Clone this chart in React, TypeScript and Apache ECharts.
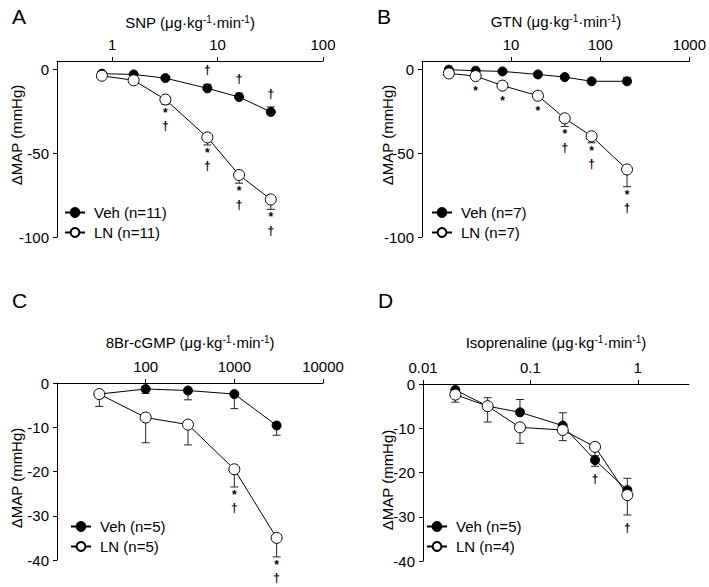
import React, { useEffect, useRef } from "react";
import * as echarts from "echarts";

const FONT = "'Liberation Sans', Arial, Helvetica, sans-serif";

// ---------- Panel A: SNP ----------
const snpDose = [0.8, 1.6, 3.2, 8, 16, 32];
const snpVeh = [-2.6, -3.0, -5.2, -11.3, -16.5, -25.4];
const snpVehErr = [0.6, 0.6, 0.8, 2.4, 2.3, 3.0];
const snpVehSig = ["", "", "", "†", "†", "†"];
const snpLn = [-3.8, -6.5, -18.0, -40.6, -63.0, -77.6];
const snpLnErr = [-0.8, -1.0, -3.0, -4.5, -4.9, -5.9];
const snpLnSig = ["", "", "*†", "*†", "*†", "*†"];
const snpTicks = [1, 10, 100];

// ---------- Panel B: GTN ----------
const gtnDose = [2, 4, 8, 20, 40, 80, 200];
const gtnVeh = [-0.2, -0.8, -1.2, -3.0, -4.6, -7.1, -7.1];
const gtnVehErr = [0.5, 0.5, 0.5, 0.6, 0.8, 0.8, 2.3];
const gtnVehSig = ["", "", "", "", "", "", ""];
const gtnLn = [-2.4, -4.0, -9.7, -15.7, -29.2, -39.9, -59.7];
const gtnLnErr = [-0.6, -0.8, -0.8, -2.3, -4.8, -3.9, -10.3];
const gtnLnSig = ["", "*", "*", "*", "*†", "*†", "*†"];
const gtnTicks = [10, 100, 1000];

// ---------- Panel C: 8Br-cGMP ----------
const cgmpDose = [30, 100, 300, 1000, 3000];
const cgmpVeh = [-2.5, -1.35, -1.7, -2.5, -9.6];
const cgmpVehErr = [-0.8, -1.0, -2.1, -3.3, -2.2];
const cgmpVehSig = ["", "", "", "", ""];
const cgmpLn = [-2.5, -7.8, -9.4, -19.5, -35.0];
const cgmpLnErr = [-2.8, -5.7, -4.6, -4.0, -4.3];
const cgmpLnSig = ["", "", "", "*†", "*†"];
const cgmpTicks = [100, 1000, 10000];

// ---------- Panel D: Isoprenaline ----------
const isoDose = [0.02, 0.04, 0.08, 0.2, 0.4, 0.8];
const isoVeh = [-1.35, -5.0, -6.4, -9.4, -17.2, -24.0];
const isoVehErr = [-0.5, 1.9, 2.9, 2.9, -1.4, 2.7];
const isoVehSig = ["", "", "", "", "†", ""];
const isoLn = [-2.4, -5.0, -9.8, -10.4, -14.2, -25.1];
const isoLnErr = [-1.7, -3.6, -3.6, -2.4, -2.0, -4.5];
const isoLnSig = ["", "", "", "", "", "†"];
const isoTicks = [0.01, 0.1, 1];

const mapTicksAB = [-100, -50, 0];
const mapTicksCD = [-40, -30, -20, -10, 0];

const panels = [
  {
    letter: "A", drug: "SNP", doses: snpDose,
    veh: snpVeh, vehErr: snpVehErr, vehSig: snpVehSig, vehName: "Veh (n=11)",
    ln: snpLn, lnErr: snpLnErr, lnSig: snpLnSig, lnName: "LN (n=11)",
    xMin: 0.3, xMax: 100, xTicks: snpTicks, yMin: -100, yMax: 5, yTicks: mapTicksAB,
    grid: { left: 57, top: 61, width: 266, height: 176 },
    legend: { left: 64, top: 205 }, letterPos: [12, 6], titlePos: [190, 22], yNamePos: [16, 135],
  },
  {
    letter: "B", drug: "GTN", doses: gtnDose,
    veh: gtnVeh, vehErr: gtnVehErr, vehSig: gtnVehSig, vehName: "Veh (n=7)",
    ln: gtnLn, lnErr: gtnLnErr, lnSig: gtnLnSig, lnName: "LN (n=7)",
    xMin: 1, xMax: 1000, xTicks: gtnTicks, yMin: -100, yMax: 5, yTicks: mapTicksAB,
    grid: { left: 422, top: 61, width: 268, height: 176 },
    legend: { left: 431, top: 205 }, letterPos: [377, 6], titlePos: [556, 21], yNamePos: [387, 135],
  },
  {
    letter: "C", drug: "8Br-cGMP", doses: cgmpDose,
    veh: cgmpVeh, vehErr: cgmpVehErr, vehSig: cgmpVehSig, vehName: "Veh (n=5)",
    ln: cgmpLn, lnErr: cgmpLnErr, lnSig: cgmpLnSig, lnName: "LN (n=5)",
    xMin: 10, xMax: 10000, xTicks: cgmpTicks, yMin: -40, yMax: 0, yTicks: mapTicksCD,
    grid: { left: 57, top: 383, width: 266, height: 177 },
    legend: { left: 70, top: 519 }, letterPos: [12, 290], titlePos: [190, 342], yNamePos: [16, 478],
  },
  {
    letter: "D", drug: "Isoprenaline", doses: isoDose,
    veh: isoVeh, vehErr: isoVehErr, vehSig: isoVehSig, vehName: "Veh (n=5)",
    ln: isoLn, lnErr: isoLnErr, lnSig: isoLnSig, lnName: "LN (n=4)",
    xMin: 0.01, xMax: 3, xTicks: isoTicks, yMin: -40, yMax: 0, yTicks: mapTicksCD,
    grid: { left: 423, top: 384, width: 266, height: 177 },
    legend: { left: 426, top: 519 }, letterPos: [378, 290], titlePos: [556, 342], yNamePos: [387, 480],
  },
];

function starText(x: number, y: number) {
  return {
    type: "text",
    x,
    y,
    style: {
      text: "*",
      align: "center",
      verticalAlign: "middle",
      fontSize: 12,
      fontWeight: "bold",
      fontFamily: FONT,
      fill: "#000",
    },
  };
}

function daggerText(x: number, y: number) {
  return {
    type: "text",
    x,
    y,
    style: {
      text: "†",
      align: "center",
      verticalAlign: "middle",
      fontSize: 12,
      fontWeight: "bold",
      fontFamily: FONT,
      fill: "#000",
    },
  };
}

function errorSeries(gi: number, doses: number[], means: number[], errs: number[], sig: string[]) {
  return {
    type: "custom",
    xAxisIndex: gi,
    yAxisIndex: gi,
    silent: true,
    clip: false,
    z: 1,
    data: doses.map((d, i) => [d, means[i], errs[i], i]),
    encode: { x: 0, y: 1 },
    renderItem: (params: any, api: any) => {
      const x = api.value(0);
      const y = api.value(1);
      const e = api.value(2);
      const i = api.value(3);
      const p = api.coord([x, y]);
      const q = api.coord([x, y + e]);
      const children: any[] = [];
      if (Math.abs(q[1] - p[1]) > 0.5) {
        children.push({
          type: "line",
          shape: { x1: p[0], y1: p[1], x2: q[0], y2: q[1] },
          style: { stroke: "#222", lineWidth: 1 },
        });
        children.push({
          type: "line",
          shape: { x1: q[0] - 4, y1: q[1], x2: q[0] + 4, y2: q[1] },
          style: { stroke: "#222", lineWidth: 1 },
        });
      }
      const s = sig[i];
      if (s) {
        const dir = e < 0 ? 1 : -1;
        const base = Math.max(Math.abs(q[1] - p[1]), 5);
        const hasStar = s.indexOf("*") >= 0;
        const hasDagger = s.indexOf("†") >= 0;
        if (hasStar && hasDagger) {
          children.push(starText(p[0], p[1] + dir * (base + 8)));
          children.push(daggerText(p[0], p[1] + dir * (base + 21.5)));
        } else if (hasStar) {
          children.push(starText(p[0], p[1] + dir * (base + 10)));
        } else if (hasDagger) {
          children.push(daggerText(p[0], p[1] + dir * (base + 13)));
        }
      }
      return { type: "group", children };
    },
  };
}

export default function App() {
  const ref = useRef<HTMLDivElement>(null);
  useEffect(() => {
    if (!ref.current) return;
    const chart = echarts.init(ref.current, undefined, { renderer: "svg" });
    const grid: any[] = [];
    const xAxis: any[] = [];
    const yAxis: any[] = [];
    const series: any[] = [];
    const legend: any[] = [];
    const graphic: any[] = [];

    panels.forEach((pn, gi) => {
      grid.push({ ...pn.grid, containLabel: false });
      xAxis.push({
        type: "log",
        logBase: 10,
        gridIndex: gi,
        position: "top",
        min: pn.xMin,
        max: pn.xMax,
        axisLine: { show: true, onZero: false, lineStyle: { color: "#000", width: 1 } },
        axisTick: { show: true, length: 4, inside: false, customValues: pn.xTicks, lineStyle: { color: "#000" } },
        minorTick: { show: false },
        splitLine: { show: false },
        axisLabel: {
          customValues: pn.xTicks,
          margin: 9,
          fontSize: 15,
          color: "#000",
          fontFamily: FONT,
          formatter: (v: number) => String(+Number(v).toPrecision(6)),
        },
      });
      yAxis.push({
        type: "value",
        gridIndex: gi,
        min: pn.yMin,
        max: pn.yMax,
        axisLine: { show: true, onZero: false, lineStyle: { color: "#000", width: 1 } },
        axisTick: { show: true, length: 4, customValues: pn.yTicks, lineStyle: { color: "#000" } },
        splitLine: { show: false },
        axisLabel: {
          customValues: pn.yTicks,
          margin: 8,
          fontSize: 15,
          color: "#000",
          fontFamily: FONT,
          formatter: (v: number) => String(v),
        },
      });
      series.push(errorSeries(gi, pn.doses, pn.veh, pn.vehErr, pn.vehSig));
      series.push(errorSeries(gi, pn.doses, pn.ln, pn.lnErr, pn.lnSig));
      series.push({
        type: "line",
        name: pn.vehName,
        xAxisIndex: gi,
        yAxisIndex: gi,
        data: pn.doses.map((d, i) => [d, pn.veh[i]]),
        symbol: "circle",
        symbolSize: 9,
        z: 3,
        itemStyle: { color: "#000", borderColor: "#000", borderWidth: 1 },
        lineStyle: { color: "#000", width: 1 },
        clip: false,
      });
      series.push({
        type: "line",
        name: pn.lnName,
        xAxisIndex: gi,
        yAxisIndex: gi,
        data: pn.doses.map((d, i) => [d, pn.ln[i]]),
        symbol: "circle",
        symbolSize: 11,
        z: 4,
        itemStyle: { color: "#fff", borderColor: "#000", borderWidth: 1 },
        lineStyle: { color: "#000", width: 1 },
        clip: false,
      });
      legend.push({
        data: [pn.vehName, pn.lnName],
        orient: "vertical",
        left: pn.legend.left,
        top: pn.legend.top,
        itemWidth: 20,
        itemHeight: 11,
        itemGap: 5,
        selectedMode: false,
        padding: 0,
        textStyle: { fontSize: 15, color: "#000", fontFamily: FONT, padding: [0, 0, 0, 4] },
      });
      graphic.push({
        type: "text",
        x: pn.letterPos[0],
        y: pn.letterPos[1],
        style: { text: pn.letter, fontSize: 21, fontFamily: FONT, fill: "#000", verticalAlign: "top" },
      });
      graphic.push({
        type: "text",
        x: pn.titlePos[0],
        y: pn.titlePos[1],
        style: {
          text: `{b|${pn.drug} (μg·kg}{s|-1}{b|·min}{s|-1}{b|)}`,
          align: "center",
          verticalAlign: "middle",
          rich: {
            b: { fontSize: 15, fontFamily: FONT, fill: "#000", color: "#000" },
            s: { fontSize: 10, fontFamily: FONT, fill: "#000", color: "#000", verticalAlign: "top" },
          },
        },
      });
      graphic.push({
        type: "text",
        x: pn.yNamePos[0],
        y: pn.yNamePos[1],
        rotation: Math.PI / 2,
        style: {
          text: "ΔMAP (mmHg)",
          align: "center",
          verticalAlign: "middle",
          fontSize: 15,
          fontFamily: FONT,
          fill: "#000",
        },
      });
    });

    chart.setOption({
      animation: false,
      backgroundColor: "#fff",
      textStyle: { fontFamily: FONT },
      grid,
      xAxis,
      yAxis,
      series,
      legend,
      graphic,
    });
    return () => chart.dispose();
  }, []);
  return (
    <div
      ref={ref}
      style={{ position: "fixed", left: 0, top: 0, width: 709, height: 587, background: "#fff" }}
    />
  );
}
